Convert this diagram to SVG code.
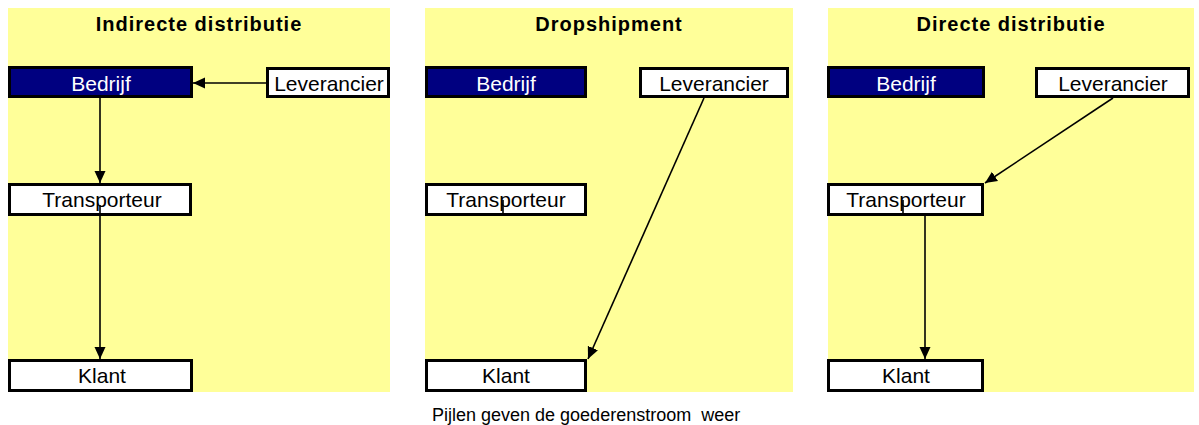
<svg xmlns="http://www.w3.org/2000/svg" width="1199" height="425" viewBox="0 0 1199 425">
<style>
.panel{fill:#FFFF99}
.box{fill:#fff;stroke:#000;stroke-width:3}
.dark{fill:#000080;stroke:#000;stroke-width:3}
.lbl{font-family:"Liberation Sans",Arial,sans-serif;font-size:21px;fill:#000;text-anchor:middle}
.wl{fill:#fff}
.title{font-family:"Liberation Sans",Arial,sans-serif;font-size:20px;font-weight:bold;letter-spacing:1px;fill:#000;text-anchor:middle}
.foot{font-family:"Liberation Sans",Arial,sans-serif;font-size:18px;fill:#000;white-space:pre}
.conn{stroke:#000;stroke-width:1.6;fill:none}
</style>
<defs>
<marker id="ah" markerUnits="userSpaceOnUse" markerWidth="14" markerHeight="14" viewBox="0 0 14 14" refX="12" refY="7" orient="auto">
<path d="M0,1.5 L12,7 L0,12.5 z" fill="#000"/>
</marker>
</defs>
<g id="panels">
<rect class="panel" x="8" y="8" width="382" height="384"/>
<rect class="panel" x="425" y="8" width="368" height="384"/>
<rect class="panel" x="828" y="8" width="366" height="384"/>
<text class="title" x="199" y="31">Indirecte distributie</text>
<text class="title" x="609" y="31">Dropshipment</text>
<text class="title" x="1011" y="31">Directe distributie</text>
</g>
<g id="p1-bedrijf"><rect class="dark" x="9.5" y="67.5" width="182" height="29"/><text class="lbl wl" x="101" y="91">Bedrijf</text></g>
<g id="p1-leverancier"><rect class="box" x="267.5" y="68.5" width="121" height="28"/><text class="lbl" x="329" y="91">Leverancier</text></g>
<g id="p1-transporteur"><rect class="box" x="9.5" y="184.5" width="181" height="30"/><text class="lbl" x="102" y="207">Transporteur</text></g>
<g id="p1-klant"><rect class="box" x="9.5" y="360.5" width="182" height="30"/><text class="lbl" x="102" y="383">Klant</text></g>
<g id="p2-bedrijf"><rect class="dark" x="426.5" y="67.5" width="159" height="29"/><text class="lbl wl" x="506" y="91">Bedrijf</text></g>
<g id="p2-leverancier"><rect class="box" x="640.5" y="68.5" width="147" height="28"/><text class="lbl" x="714" y="91">Leverancier</text></g>
<g id="p2-transporteur"><rect class="box" x="426.5" y="184.5" width="159" height="30"/><text class="lbl" x="506" y="207">Transporteur</text></g>
<g id="p2-klant"><rect class="box" x="426.5" y="360.5" width="159" height="30"/><text class="lbl" x="506" y="383">Klant</text></g>
<g id="p3-bedrijf"><rect class="dark" x="828.5" y="67.5" width="155" height="29"/><text class="lbl wl" x="906" y="91">Bedrijf</text></g>
<g id="p3-leverancier"><rect class="box" x="1036.5" y="68.5" width="152" height="28"/><text class="lbl" x="1113" y="91">Leverancier</text></g>
<g id="p3-transporteur"><rect class="box" x="828.5" y="184.5" width="154" height="30"/><text class="lbl" x="906" y="207">Transporteur</text></g>
<g id="p3-klant"><rect class="box" x="828.5" y="360.5" width="154" height="30"/><text class="lbl" x="906" y="383">Klant</text></g>
<g id="connectors">
<line class="conn" x1="266" y1="83" x2="193" y2="83" marker-end="url(#ah)"/>
<line class="conn" x1="100" y1="98" x2="100" y2="183" marker-end="url(#ah)"/>
<line class="conn" x1="100" y1="205" x2="100" y2="359" marker-end="url(#ah)"/>
<line class="conn" x1="704" y1="98" x2="588" y2="359" marker-end="url(#ah)"/>
<line class="conn" x1="503" y1="200" x2="503" y2="215"/>
<line class="conn" x1="1113" y1="98" x2="985" y2="183" marker-end="url(#ah)"/>
<line class="conn" x1="903" y1="200" x2="903" y2="215"/>
<line class="conn" x1="925" y1="216" x2="925" y2="359" marker-end="url(#ah)"/>
</g>
<text class="foot" x="432" y="421">Pijlen geven de goederenstroom  weer</text>
</svg>
